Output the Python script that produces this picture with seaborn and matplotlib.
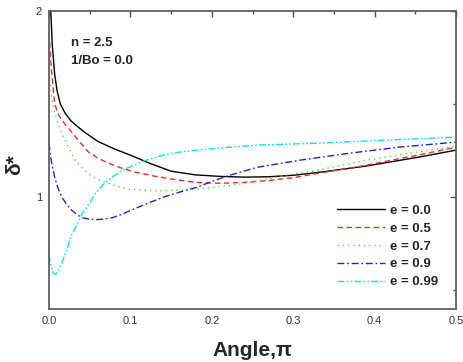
import numpy as np
import pandas as pd
import matplotlib
matplotlib.use("Agg")
import matplotlib.pyplot as plt
import seaborn as sns
from matplotlib.ticker import MultipleLocator, FixedLocator

# ---- data ----
x_e00 = [0.002, 0.004, 0.007, 0.01, 0.014, 0.02, 0.027, 0.035, 0.045, 0.06, 0.08, 0.1, 0.125, 0.15,
         0.18, 0.21, 0.24, 0.27, 0.3, 0.33, 0.36, 0.39, 0.42, 0.46, 0.5]
y_e00 = [2.02, 1.82, 1.66, 1.57, 1.50, 1.45, 1.41, 1.38, 1.345, 1.30, 1.26, 1.226, 1.18, 1.14,
         1.12, 1.112, 1.108, 1.11, 1.118, 1.133, 1.15, 1.168, 1.19, 1.22, 1.253]

x_e05 = [0.0, 0.002, 0.004, 0.007, 0.012, 0.02, 0.028, 0.036, 0.048, 0.06, 0.072, 0.09, 0.106, 0.13,
         0.152, 0.18, 0.21, 0.24, 0.27, 0.3, 0.33, 0.36, 0.39, 0.42, 0.46, 0.5]
y_e05 = [1.88, 1.74, 1.64, 1.50, 1.44, 1.39, 1.35, 1.306, 1.245, 1.21, 1.185, 1.155, 1.135, 1.113,
         1.097, 1.08, 1.075, 1.08, 1.09, 1.105, 1.128, 1.15, 1.172, 1.198, 1.232, 1.269]

x_e07 = [0.0, 0.003, 0.006, 0.01, 0.015, 0.02, 0.026, 0.032, 0.04, 0.048, 0.058, 0.069, 0.085, 0.1,
         0.13, 0.16, 0.19, 0.22, 0.25, 0.29, 0.33, 0.39, 0.44, 0.5]
y_e07 = [1.66, 1.55, 1.47, 1.41, 1.35, 1.306, 1.25, 1.199, 1.16, 1.129, 1.10, 1.081, 1.058, 1.042,
         1.035, 1.038, 1.047, 1.062, 1.081, 1.118, 1.145, 1.199, 1.235, 1.274]

x_e09 = [0.0, 0.003, 0.007, 0.011, 0.016, 0.022, 0.028, 0.035, 0.041, 0.05, 0.057, 0.066, 0.078,
         0.09, 0.106, 0.12, 0.14, 0.16, 0.182, 0.2, 0.222, 0.256, 0.308, 0.37, 0.43, 0.5]
y_e09 = [1.29, 1.19, 1.108, 1.05, 1.0, 0.96, 0.93, 0.905, 0.89, 0.882, 0.88, 0.882, 0.89,
         0.91, 0.94, 0.965, 1.0, 1.027, 1.054, 1.085, 1.118, 1.161, 1.199, 1.237, 1.269, 1.296]

x_e099 = [0.0, 0.002, 0.005, 0.008, 0.012, 0.018, 0.023, 0.028, 0.035, 0.041, 0.05, 0.057, 0.066,
          0.078, 0.09, 0.106, 0.12, 0.14, 0.16, 0.182, 0.222, 0.256, 0.329, 0.41, 0.5]
y_e099 = [0.69, 0.64, 0.595, 0.585, 0.61, 0.67, 0.735, 0.80, 0.86, 0.914, 0.97, 1.02, 1.065,
          1.11, 1.145, 1.175, 1.20, 1.226, 1.242, 1.253, 1.269, 1.28, 1.29, 1.306, 1.323]

labels = ["e = 0.0", "e = 0.5", "e = 0.7", "e = 0.9", "e = 0.99"]
xs = [x_e00, x_e05, x_e07, x_e09, x_e099]
ys = [y_e00, y_e05, y_e07, y_e09, y_e099]

x_ticks = [0.0, 0.1, 0.2, 0.3, 0.4, 0.5]
x_tick_labels = ["0.0", "0.1", "0.2", "0.3", "0.4", "0.5"]
y_ticks = [1, 2]
y_tick_labels = ["1", "2"]

frames = [pd.DataFrame({"angle": x, "delta": y, "series": lab}) for x, y, lab in zip(xs, ys, labels)]
df = pd.concat(frames, ignore_index=True)

colors = {"e = 0.0": "#000000", "e = 0.5": "#e8302c", "e = 0.7": "#40e040",
          "e = 0.9": "#2222c8", "e = 0.99": "#10e0e0"}
dashes = {"e = 0.0": "", "e = 0.5": (4, 2.5), "e = 0.7": (1, 2.8),
          "e = 0.9": (5, 2, 1.2, 2), "e = 0.99": (5, 1.6, 1.2, 1.6, 1.2, 1.6)}

sns.set_style("white")
plt.rcParams["font.family"] = ["Liberation Sans", "DejaVu Sans"]

fig = plt.figure(figsize=(4.63, 3.62), dpi=100)
ax = fig.add_axes([0.1058, 0.1464, 0.8792, 0.8232])

sns.lineplot(data=df, x="angle", y="delta", hue="series", style="series",
             palette=colors, dashes=dashes, hue_order=labels, style_order=labels,
             sort=False, estimator=None, linewidth=1.0, ax=ax)

ax.set_xlim(0, 0.5)
ax.set_ylim(0.4, 2.0)
ax.xaxis.set_major_locator(FixedLocator(x_ticks))
ax.set_xticklabels(x_tick_labels)
ax.xaxis.set_minor_locator(MultipleLocator(0.05))
ax.yaxis.set_major_locator(FixedLocator(y_ticks))
ax.set_yticklabels(y_tick_labels)
ax.yaxis.set_minor_locator(MultipleLocator(0.5))
ax.tick_params(which="both", direction="in", top=True, right=True, colors="#505050",
               labelcolor="#333333", labelsize=8, pad=5)
ax.tick_params(which="major", length=4, width=1)
ax.tick_params(which="minor", length=2.5, width=1)
for s in ax.spines.values():
    s.set_color("#606060")
    s.set_linewidth(1.3)

ax.set_xlabel("Angle,π", fontsize=15, fontweight="bold")
ax.set_ylabel("δ*", fontsize=15, fontweight="bold")
ax.xaxis.label.set_va("center")
ax.xaxis.set_label_coords(0.5, -0.1376)
ax.yaxis.label.set_va("center")
ax.yaxis.label.set_ha("center")
ax.yaxis.set_label_coords(-0.0835, 0.483)

ax.text(0.054, 0.893, "n = 2.5", transform=ax.transAxes, fontsize=9.5, fontweight="bold", va="center")
ax.text(0.054, 0.832, "1/Bo = 0.0", transform=ax.transAxes, fontsize=9.5, fontweight="bold", va="center")

leg = ax.legend(loc="lower right", bbox_to_anchor=(0.985, 0.03), frameon=False,
                handlelength=3.6, handletextpad=0.4, labelspacing=0.42,
                prop={"weight": "bold", "size": 9.5})
for h in leg.get_lines():
    h.set_linewidth(1.0)

fig.savefig("out.png", dpi=100)
